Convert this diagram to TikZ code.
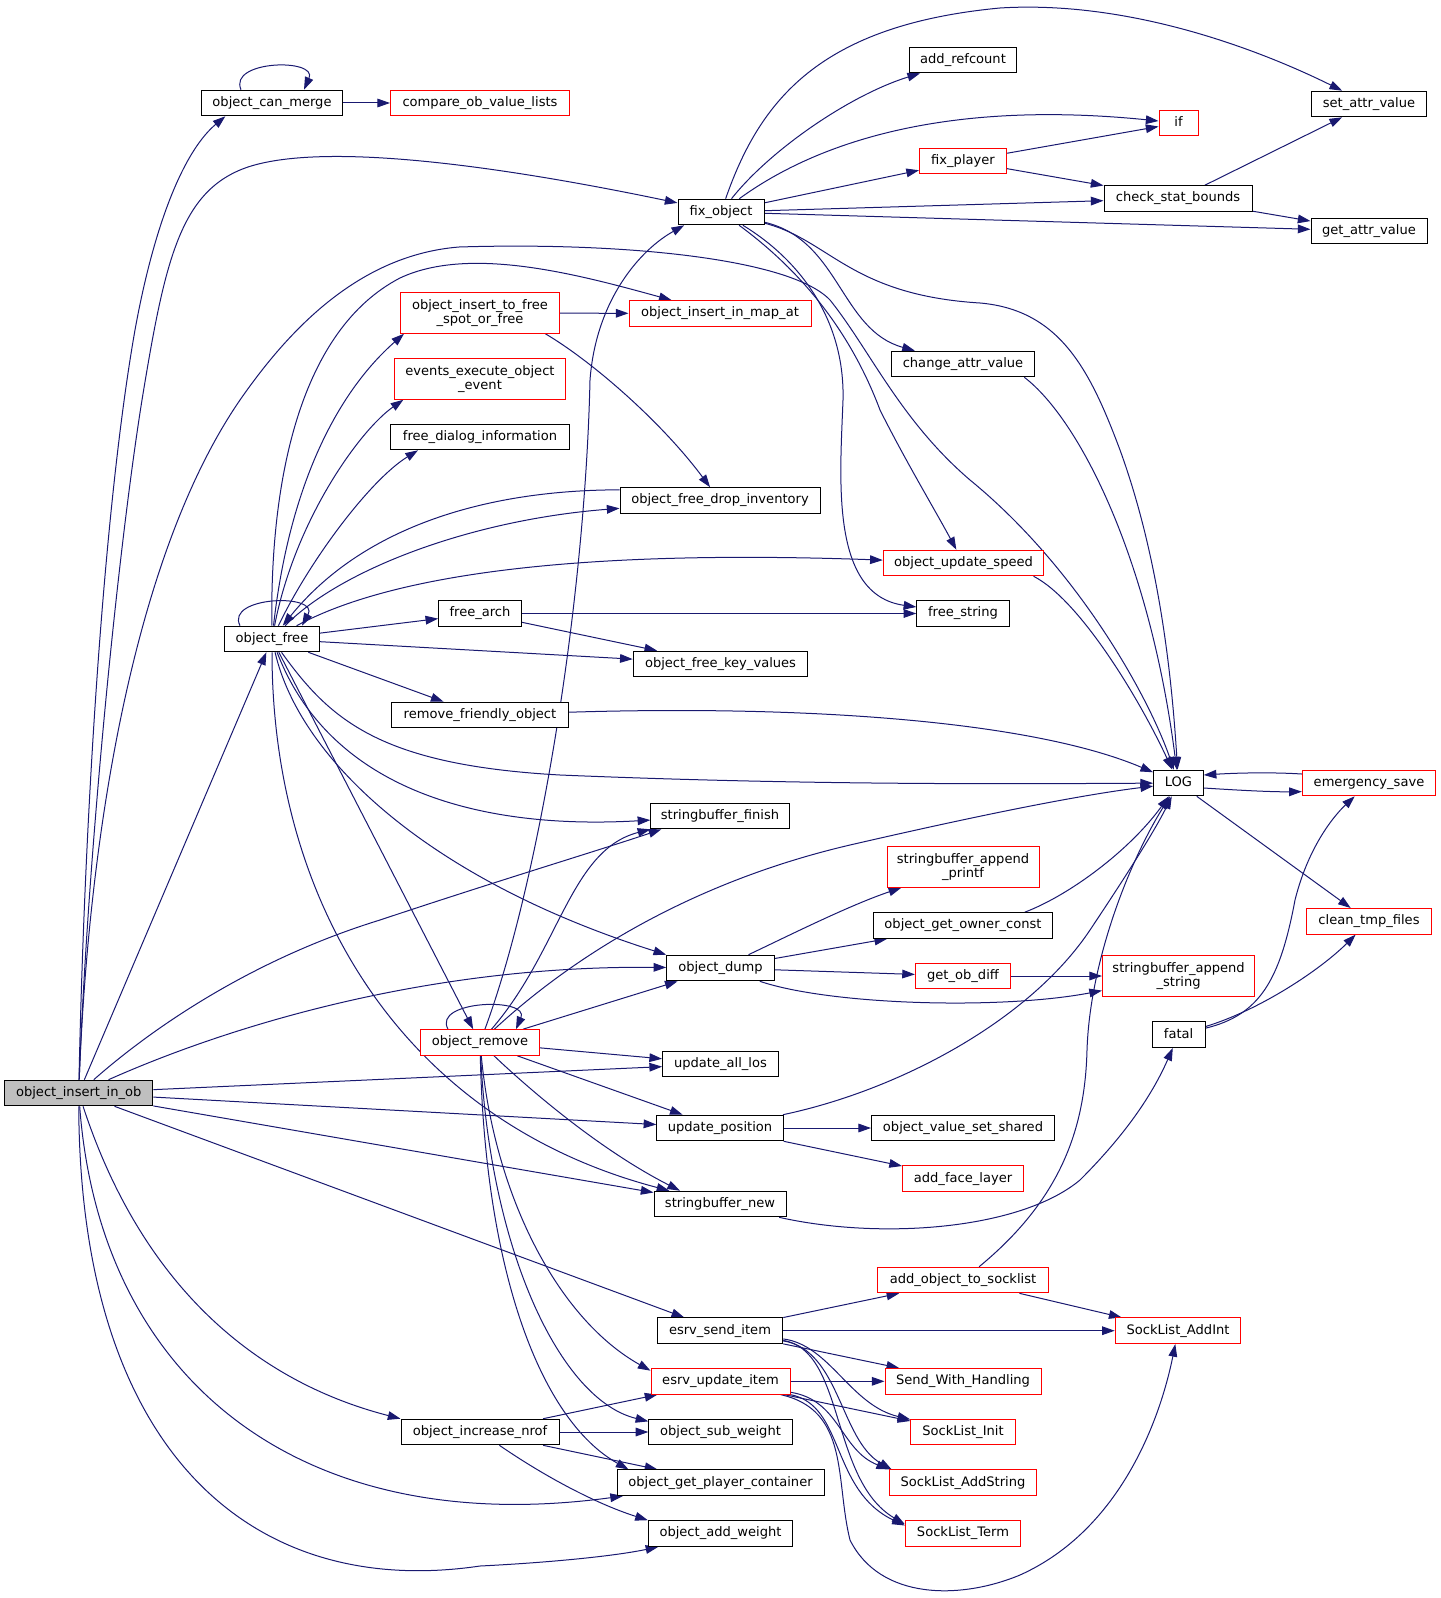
\documentclass[tikz,border=0pt]{standalone}
\usepackage{fontspec}
\usetikzlibrary{arrows.meta,calc}
\newfontfamily\dvs{DejaVu Sans}
\newcommand\dgfont{\dvs\fontsize{9.8pt}{10.5pt}\selectfont}
\definecolor{edgeblue}{HTML}{191970}
\definecolor{grayfill}{HTML}{BFBFBF}
\pgfdeclarelayer{bg}
\pgfsetlayers{bg,main}
\tikzset{
 nb/.style={draw=black, fill=white, line width=0.75pt, inner sep=0pt, minimum height=19.2pt, text height=7.2pt, text depth=2.2pt, font=\dgfont},
 nr/.style={nb, draw=red},
 ng/.style={nb, fill=grayfill},
 nr2/.style={draw=red, fill=white, line width=0.75pt, inner sep=0pt, minimum height=30.4pt, align=center, font=\dgfont},
 wd/.style={minimum width=#1*0.75pt},
 e/.style={draw=edgeblue, line width=0.75pt, -{Triangle[length=9.5pt,width=6.5pt]}},
}
\begin{document}
\begin{tikzpicture}[x=0.75pt,y=-0.75pt]
\useasboundingbox (0,0) rectangle (1441,1598);
% nodes
\node[nb, wd=141.5] (canmerge) at (272,103) {object\_can\_merge};
\node[nr, wd=179] (compare) at (480,103) {compare\_ob\_value\_lists};
\node[nb, wd=86] (fixobj) at (721,212) {fix\_object};
\node[nb, wd=107] (addref) at (963,60) {add\_refcount};
\node[nb, wd=115] (setattr) at (1369,104) {set\_attr\_value};
\node[nr, wd=39] (if) at (1178.5,123) {if};
\node[nr, wd=87] (fixplayer) at (963,161) {fix\_player};
\node[nb, wd=148] (checkstat) at (1178,198.5) {check\_stat\_bounds};
\node[nb, wd=116] (getattr) at (1369,231) {get\_attr\_value};
\node[nr, wd=182] (inmap) at (720,313.5) {object\_insert\_in\_map\_at};
\node[nr2, wd=159] (tofree) at (480,313) {object\_insert\_to\_free\\\_spot\_or\_free};
\node[nb, wd=143] (changeattr) at (963,364) {change\_attr\_value};
\node[nr2, wd=171] (events) at (480,379) {events\_execute\_object\\\_event};
\node[nb, wd=179] (dialog) at (480,437) {free\_dialog\_information};
\node[nb, wd=200] (dropinv) at (720,500.5) {object\_free\_drop\_inventory};
\node[nr, wd=160.5] (speed) at (963.5,563) {object\_update\_speed};
\node[nb, wd=82.6] (freearch) at (480,613.5) {free\_arch};
\node[nb, wd=92.4] (freestring) at (963,613.5) {free\_string};
\node[nb, wd=94.6] (ofree) at (272,639) {object\_free};
\node[nb, wd=174.6] (keyvals) at (720.5,664) {object\_free\_key\_values};
\node[nb, wd=176.4] (friendly) at (480,715) {remove\_friendly\_object};
\node[nb, wd=49.6] (log) at (1178.4,783) {LOG};
\node[nr, wd=133.4] (emerg) at (1369,783) {emergency\_save};
\node[nb, wd=138.4] (sbfinish) at (720,816) {stringbuffer\_finish};
\node[nr2, wd=152] (sbprintf) at (963,867) {stringbuffer\_append\\\_printf};
\node[nr, wd=124.3] (cleantmp) at (1369,921.3) {clean\_tmp\_files};
\node[nb, wd=178.4] (owner) at (963,925.5) {object\_get\_owner\_const};
\node[nb, wd=107.6] (dump) at (720.5,968) {object\_dump};
\node[nr, wd=95.2] (obdiff) at (963,976) {get\_ob\_diff};
\node[nr2, wd=152.2] (sbstring) at (1178.6,976) {stringbuffer\_append\\\_string};
\node[nb, wd=52.8] (fatal) at (1178.6,1034.7) {fatal};
\node[nr, wd=118.4] (oremove) at (480,1042.5) {object\_remove};
\node[nb, wd=115.9] (alllos) at (720.5,1064) {update\_all\_los};
\node[ng, wd=148.3] (ins) at (78.7,1093) {object\_insert\_in\_ob};
\node[nb, wd=126.4] (updpos) at (720,1128) {update\_position};
\node[nb, wd=183] (shared) at (963,1128) {object\_value\_set\_shared};
\node[nr, wd=121] (face) at (963,1178.7) {add\_face\_layer};
\node[nb, wd=132] (sbnew) at (720,1204) {stringbuffer\_new};
\node[nr, wd=170.6] (addsock) at (963,1280) {add\_object\_to\_socklist};
\node[nb, wd=125.5] (sendi) at (720,1330.7) {esrv\_send\_item};
\node[nr, wd=125.6] (addint) at (1178,1330.7) {SockList\_AddInt};
\node[nr, wd=139] (updi) at (720.5,1381.3) {esrv\_update\_item};
\node[nr, wd=156] (swh) at (963,1381.3) {Send\_With\_Handling};
\node[nb, wd=158] (nrof) at (480,1432) {object\_increase\_nrof};
\node[nb, wd=143.4] (subw) at (720.5,1432) {object\_sub\_weight};
\node[nr, wd=104.4] (sinit) at (963,1432) {SockList\_Init};
\node[nb, wd=207] (player) at (720.5,1482.7) {object\_get\_player\_container};
\node[nr, wd=147] (saddstr) at (963,1482.7) {SockList\_AddString};
\node[nb, wd=144.3] (addw) at (720.5,1533.5) {object\_add\_weight};
\node[nr, wd=115.4] (sterm) at (963,1533.5) {SockList\_Term};
% edges
\begin{pgfonlayer}{bg}
% object_insert_in_ob
\draw[e] (ins) .. controls (85,800) and (105,500) .. (135,330) .. controls (155,220) and (185,150) .. ([xshift=-35pt]canmerge.south);
\draw[e] (ins) .. controls (88,850) and (118,550) .. (142,400) .. controls (165,260) and (180,190) .. (248,167) .. controls (330,140) and (520,170) .. (fixobj);
\draw[e] (ins) .. controls (88,850) and (130,560) .. (240,400) .. controls (290,328) and (360,255) .. (459,247) .. controls (620,242) and (790,258) .. (830,300) .. controls (870,350) and (900,420) .. (970,480) .. controls (1080,570) and (1150,700) .. (log);
\draw[e] (ins) -- (ofree);
\draw[e] (ins) .. controls (150,1030) and (250,960) .. (380,920) .. controls (500,880) and (600,850) .. ([xshift=-44pt]sbfinish.south);
\draw[e] (ins) .. controls (220,1030) and (420,965) .. (dump);
\draw[e] (ins) -- (alllos);
\draw[e] (ins) -- (updpos);
\draw[e] (ins) -- (sbnew);
\draw[e] (ins) -- (sendi);
\draw[e] (ins) .. controls (140,1280) and (250,1380) .. (nrof.north west);
\draw[e] (ins) .. controls (100,1380) and (300,1540) .. (player);
\draw[e] (ins) .. controls (80,1450) and (250,1600) .. (480,1566) .. controls (560,1562) and (620,1555) .. (addw);
% object_can_merge
\draw[e] ([xshift=-23.25pt]canmerge.north) .. controls (228,60) and (318,58) .. ([xshift=24pt]canmerge.north);
\draw[e] (canmerge) -- (compare);
% object_free
\draw[e] ([xshift=-24pt]ofree.north) .. controls (225,596) and (320,593) .. ([xshift=22.5pt]ofree.north);
\draw[e] (ofree) .. controls (270,480) and (300,330) .. (400,278) .. controls (470,245) and (580,275) .. (inmap);
\draw[e] (ofree) .. controls (290,480) and (340,390) .. ([xshift=3pt]tofree.south west);
\draw[e] (ofree) .. controls (295,520) and (360,430) .. ([xshift=7pt]events.south west);
\draw[e] (ofree) .. controls (310,560) and (370,480) .. ([xshift=21pt]dialog.south west);
\draw[e] ([yshift=8pt]dropinv.west) .. controls (480,490) and (360,530) .. (ofree);
\draw[e] (ofree) .. controls (340,570) and (470,520) .. (dropinv);
\draw[e] (ofree) .. controls (400,570) and (600,550) .. (speed);
\draw[e] (ofree) -- (freearch);
\draw[e] (ofree) -- (keyvals);
\draw[e] (ofree) -- (friendly);
\draw[e] (ofree) .. controls (330,720) and (380,765) .. (560,775) .. controls (800,785) and (1000,784) .. (log);
\draw[e] (ofree) .. controls (330,790) and (480,830) .. (sbfinish);
\draw[e] (ofree) .. controls (300,760) and (430,880) .. (dump.north west);
\draw[e] (ofree) -- (oremove);
\draw[e] (ofree) .. controls (272,900) and (400,1120) .. (sbnew);
% fix_object
\draw[e] (fixobj) .. controls (770,150) and (850,95) .. (addref);
\draw[e] (fixobj) .. controls (760,100) and (820,25) .. (1000,8) .. controls (1130,0) and (1260,50) .. (setattr);
\draw[e] (fixobj) .. controls (820,140) and (950,100) .. (if);
\draw[e] (fixobj) -- (fixplayer);
\draw[e] (fixobj) -- (checkstat);
\draw[e] (fixobj) -- (getattr);
\draw[e] (fixobj) .. controls (840,240) and (840,330) .. (changeattr);
\draw[e] (fixobj) .. controls (830,240) and (850,295) .. (980,303) .. controls (1060,310) and (1090,370) .. (1120,450) .. controls (1160,560) and (1172,680) .. (log);
\draw[e] (fixobj) .. controls (800,270) and (850,330) .. (880,410) .. controls (905,460) and (935,510) .. (speed);
\draw[e] (fixobj) .. controls (800,260) and (845,320) .. (843,400) .. controls (840,480) and (830,595) .. (freestring);
\draw[e] (fixplayer) -- (if);
\draw[e] (fixplayer) -- (checkstat);
\draw[e] (checkstat) -- (setattr);
\draw[e] (checkstat) -- (getattr);
% misc
\draw[e] (tofree) -- (inmap);
\draw[e] ([xshift=-11pt]tofree.south east) .. controls (590,360) and (660,420) .. (dropinv);
\draw[e] (freearch) -- (freestring);
\draw[e] (freearch) -- (keyvals);
\draw[e] (friendly) .. controls (800,705) and (1030,720) .. (log);
\draw[e] ([xshift=-8pt]speed.south east) .. controls (1080,600) and (1140,700) .. (log);
\draw[e] ([xshift=-8pt]changeattr.south east) .. controls (1080,420) and (1150,560) .. (log);
\draw[e] ([yshift=-3.75pt]log.east) .. controls (1235,790) and (1270,792) .. ([yshift=-6.5pt]emerg.west);
\draw[e] ([yshift=6.75pt]emerg.west) .. controls (1270,772) and (1235,773) .. ([yshift=6pt]log.east);
\draw[e] (log) -- (cleantmp);
\draw[e] (fatal) .. controls (1260,1015) and (1280,980) .. (1295,900) .. controls (1310,840) and (1340,810) .. (emerg);
\draw[e] (fatal) .. controls (1260,1010) and (1320,970) .. (cleantmp);
\draw[e] (sbnew) .. controls (880,1240) and (1020,1230) .. (1080,1180) .. controls (1120,1140) and (1150,1100) .. (fatal);
% object_dump
\draw[e] (dump) .. controls (790,935) and (850,905) .. (sbprintf);
\draw[e] (dump) -- (owner);
\draw[e] (dump) -- (obdiff);
\draw[e] (dump) .. controls (830,1005) and (1000,1010) .. (sbstring);
\draw[e] ([xshift=-21pt]owner.north east) .. controls (1070,895) and (1130,850) .. (log);
\draw[e] (obdiff) -- (sbstring);
% update_position
\draw[e] (updpos) .. controls (900,1090) and (1030,1020) .. (1090,930) .. controls (1130,870) and (1155,830) .. (log);
\draw[e] (updpos) -- (shared);
\draw[e] (updpos) -- (face);
% object_remove
\draw[e] ([xshift=-24pt]oremove.north) .. controls (432,1000) and (530,997) .. ([xshift=27pt]oremove.north);
\draw[e] (oremove) .. controls (540,880) and (585,600) .. (590,380) .. controls (596,300) and (640,250) .. ([xshift=5pt]fixobj.south west);
\draw[e] (oremove) .. controls (560,950) and (570,850) .. (sbfinish.south west);
\draw[e] (oremove) .. controls (580,950) and (700,880) .. (850,845) .. controls (980,815) and (1080,795) .. (log);
\draw[e] (oremove) -- (dump);
\draw[e] (oremove) -- (alllos);
\draw[e] (oremove) -- (updpos);
\draw[e] (oremove) .. controls (530,1090) and (600,1150) .. ([xshift=-30pt]sbnew.north);
\draw[e] (oremove) .. controls (495,1200) and (560,1320) .. ([yshift=-2pt]updi.north west);
\draw[e] (oremove) .. controls (490,1250) and (560,1400) .. ([yshift=-2pt]subw.north west);
\draw[e] (oremove) .. controls (485,1270) and (540,1420) .. ([xshift=9pt]player.north west);
% socket stuff
\draw[e] (addsock) .. controls (1060,1200) and (1085,1130) .. (1087,1050) .. controls (1090,960) and (1130,860) .. (log);
\draw[e] (addsock) -- (addint);
\draw[e] (sendi) -- (addsock);
\draw[e] (sendi) -- (addint);
\draw[e] (sendi) -- (swh);
\draw[e] (sendi) .. controls (830,1345) and (850,1405) .. (sinit);
\draw[e] (sendi) .. controls (840,1350) and (840,1440) .. ([xshift=2pt]saddstr.north west);
\draw[e] (sendi) .. controls (845,1350) and (830,1480) .. ([yshift=-3pt]sterm.north west);
\draw[e] (updi) -- (swh);
\draw[e] (updi) -- (sinit);
\draw[e] (updi) .. controls (840,1400) and (840,1450) .. (saddstr.north west);
\draw[e] (updi) .. controls (845,1405) and (830,1490) .. ([yshift=-4pt]sterm.north west);
\draw[e] (updi) .. controls (850,1410) and (835,1480) .. (850,1540) .. controls (880,1600) and (960,1600) .. (1020,1575) .. controls (1120,1530) and (1160,1420) .. (addint);
% object_increase_nrof
\draw[e] (nrof) -- (updi);
\draw[e] (nrof) -- (subw);
\draw[e] (nrof) -- (player);
\draw[e] (nrof) .. controls (550,1480) and (600,1505) .. (addw.north west);
\end{pgfonlayer}
\end{tikzpicture}
\end{document}
